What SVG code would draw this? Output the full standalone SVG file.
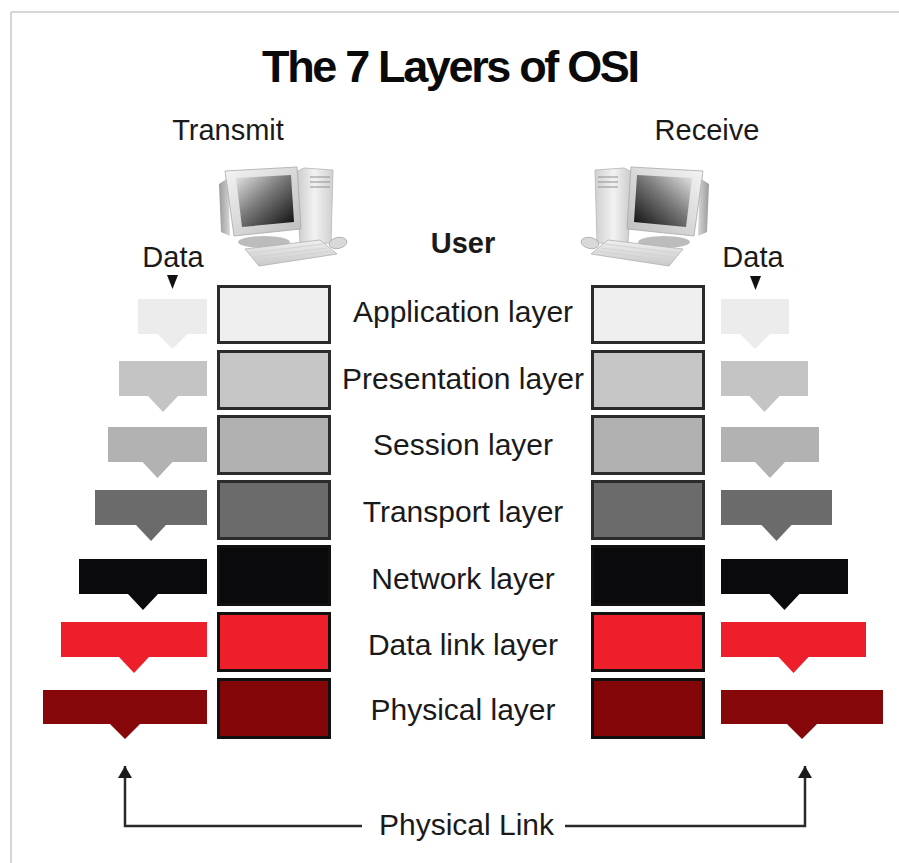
<svg xmlns="http://www.w3.org/2000/svg" width="899" height="863" viewBox="0 0 899 863">
<style>
  text { font-family: "Liberation Sans", Arial, Helvetica, sans-serif; fill: #1a1a1a; }
  .title { font-size: 45px; font-weight: bold; fill: #0a0a0a; }
  .head { font-size: 29px; }
  .user { font-size: 29px; font-weight: bold; }
  .lbl { font-size: 30px; }
  .box { stroke: #2b2b2b; stroke-width: 3; }
  .box-dark { stroke: #111; stroke-width: 3; }
  .conn { fill: none; stroke: #2a2a2a; stroke-width: 2.5; }
  .tri { fill: #111; }
</style>
<defs>
  <marker id="arrow" markerUnits="userSpaceOnUse" markerWidth="12" markerHeight="14" viewBox="0 0 12 14" refX="12" refY="7" orient="auto">
    <path d="M0,0 L12,7 L0,14 Z" fill="#1a1a1a"/>
  </marker>
  <linearGradient id="screen" x1="0" y1="0" x2="1" y2="1">
    <stop offset="0" stop-color="#e6e6e6"/>
    <stop offset="0.45" stop-color="#7a7a7a"/>
    <stop offset="1" stop-color="#0c0c0c"/>
  </linearGradient>
  <linearGradient id="bezel" x1="0" y1="0" x2="1" y2="1">
    <stop offset="0" stop-color="#f4f4f4"/>
    <stop offset="1" stop-color="#bdbdbd"/>
  </linearGradient>
  <linearGradient id="tower" x1="0" y1="0" x2="1" y2="0">
    <stop offset="0" stop-color="#c9c9c9"/>
    <stop offset="0.5" stop-color="#f2f2f2"/>
    <stop offset="1" stop-color="#d0d0d0"/>
  </linearGradient>
  <linearGradient id="back" x1="0" y1="0" x2="1" y2="0">
    <stop offset="0" stop-color="#9a9a9a"/>
    <stop offset="1" stop-color="#d6d6d6"/>
  </linearGradient>
  <linearGradient id="kbd" x1="0" y1="0" x2="0" y2="1">
    <stop offset="0" stop-color="#f0f0f0"/>
    <stop offset="1" stop-color="#c8c8c8"/>
  </linearGradient>
  <g id="computer">
    <path d="M219,184 L228,178 L230,236 L221,232 Z" fill="url(#back)"/>
    <ellipse cx="264" cy="242" rx="26" ry="6" fill="#bcbcbc"/>
    <path d="M296,172 L304,168 L333,170 L331,243 L300,244 Z" fill="url(#tower)" stroke="#b5b5b5" stroke-width="0.8"/>
    <path d="M310,177 L330,177 M310,182 L330,182 M310,187 L330,187" stroke="#8f8f8f" stroke-width="1.2"/>
    <path d="M225,171 L297,167 L301,229 L234,236 Z" fill="url(#bezel)" stroke="#a8a8a8" stroke-width="0.8"/>
    <path d="M236,178 L291,175 L294,222 L242,227 Z" fill="url(#screen)"/>
    <path d="M245,249 L320,240 L337,254 L259,266 Z" fill="url(#kbd)" stroke="#b0b0b0" stroke-width="0.8"/>
    <path d="M250,253 L323,244 M253,257 L327,248 M256,261 L331,251" stroke="#d2d2d2" stroke-width="1"/>
    <ellipse cx="338" cy="243" rx="9" ry="5.5" fill="#d9d9d9" stroke="#a9a9a9" stroke-width="0.8" transform="rotate(-12 338 243)"/>
  </g>
</defs>

<g id="frame">
  <line x1="11" y1="12" x2="899" y2="12" stroke="#c9c9c9" stroke-width="1.5"/>
  <line x1="11" y1="12" x2="11" y2="863" stroke="#c9c9c9" stroke-width="1.5"/>
</g>

<text id="title" class="title" x="451" y="82" text-anchor="middle" textLength="378">The 7 Layers of OSI</text>

<g id="transmit">
  <text class="head" x="228" y="140" text-anchor="middle">Transmit</text>
  <use href="#computer"/>
  <text class="head" x="173" y="267" text-anchor="middle">Data</text>
  <path class="tri" d="M167,275 L178,275 L172.5,289 Z"/>
</g>

<g id="receive">
  <text class="head" x="707" y="140" text-anchor="middle">Receive</text>
  <use href="#computer" transform="translate(928,0) scale(-1,1)"/>
  <text class="head" x="753" y="267" text-anchor="middle">Data</text>
  <path class="tri" d="M750,276 L761,276 L755.5,290 Z"/>
</g>

<text id="user" class="user" x="463" y="253" text-anchor="middle">User</text>

<g id="layer-application">
  <rect class="box" x="218.5" y="286.5" width="111" height="56" fill="#efefef"/>
  <rect class="box" x="592.5" y="286.5" width="111" height="56" fill="#efefef"/>
  <text class="lbl" x="463" y="322" text-anchor="middle">Application layer</text>
  <path d="M138,299 H207 V334 H187.5 L172.5,349 L157.5,334 H138 Z" fill="#ececec"/>
  <path d="M721,299 H789 V334 H770 L755,349 L740,334 H721 Z" fill="#ececec"/>
</g>
<g id="layer-presentation">
  <rect class="box" x="218.5" y="351.5" width="111" height="57" fill="#c6c6c6"/>
  <rect class="box" x="592.5" y="351.5" width="111" height="57" fill="#c6c6c6"/>
  <text class="lbl" x="463" y="389" text-anchor="middle">Presentation layer</text>
  <path d="M119,361 H207 V396 H178 L163,412 L148,396 H119 Z" fill="#c4c4c4"/>
  <path d="M721,361 H808 V396 H779.5 L764.5,412 L749.5,396 H721 Z" fill="#c4c4c4"/>
</g>
<g id="layer-session">
  <rect class="box" x="218.5" y="416.5" width="111" height="57" fill="#b1b1b1"/>
  <rect class="box" x="592.5" y="416.5" width="111" height="57" fill="#b1b1b1"/>
  <text class="lbl" x="463" y="455" text-anchor="middle">Session layer</text>
  <path d="M108,427 H207 V462 H172.5 L157.5,478 L142.5,462 H108 Z" fill="#b2b2b2"/>
  <path d="M721,427 H819 V462 H785 L770,478 L755,462 H721 Z" fill="#b2b2b2"/>
</g>
<g id="layer-transport">
  <rect class="box" x="218.5" y="481.5" width="111" height="57" fill="#6b6b6b"/>
  <rect class="box" x="592.5" y="481.5" width="111" height="57" fill="#6b6b6b"/>
  <text class="lbl" x="463" y="522" text-anchor="middle">Transport layer</text>
  <path d="M95,490 H207 V525 H166 L151,541 L136,525 H95 Z" fill="#6b6b6b"/>
  <path d="M721,490 H832 V525 H791.5 L776.5,541 L761.5,525 H721 Z" fill="#6b6b6b"/>
</g>
<g id="layer-network">
  <rect class="box-dark" x="218.5" y="546.5" width="111" height="58" fill="#0a0a0c"/>
  <rect class="box-dark" x="592.5" y="546.5" width="111" height="58" fill="#0a0a0c"/>
  <text class="lbl" x="463" y="589" text-anchor="middle">Network layer</text>
  <path d="M79,559 H207 V594 H158 L143,610 L128,594 H79 Z" fill="#0a0a0c"/>
  <path d="M721,559 H848 V594 H799.5 L784.5,610 L769.5,594 H721 Z" fill="#0a0a0c"/>
</g>
<g id="layer-datalink">
  <rect class="box-dark" x="218.5" y="613.5" width="111" height="57" fill="#ec1f2a"/>
  <rect class="box-dark" x="592.5" y="613.5" width="111" height="57" fill="#ec1f2a"/>
  <text class="lbl" x="463" y="655" text-anchor="middle">Data link layer</text>
  <path d="M61,622 H207 V657 H149 L134,673 L119,657 H61 Z" fill="#ec1f2a"/>
  <path d="M721,622 H866 V657 H808.5 L793.5,673 L778.5,657 H721 Z" fill="#ec1f2a"/>
</g>
<g id="layer-physical">
  <rect class="box-dark" x="218.5" y="679.5" width="111" height="58" fill="#830709"/>
  <rect class="box-dark" x="592.5" y="679.5" width="111" height="58" fill="#830709"/>
  <text class="lbl" x="463" y="720" text-anchor="middle">Physical layer</text>
  <path d="M43,690 H207 V724 H140 L125,739 L110,724 H43 Z" fill="#850709"/>
  <path d="M721,690 H883 V724 H817 L802,739 L787,724 H721 Z" fill="#850709"/>
</g>

<g id="connectors">
  <path class="conn" d="M362,826 H125 V766" marker-end="url(#arrow)"/>
  <path class="conn" d="M565,826 H805 V766" marker-end="url(#arrow)"/>
</g>
<text id="physical-link" class="lbl" x="466.5" y="835" text-anchor="middle">Physical Link</text>
</svg>
